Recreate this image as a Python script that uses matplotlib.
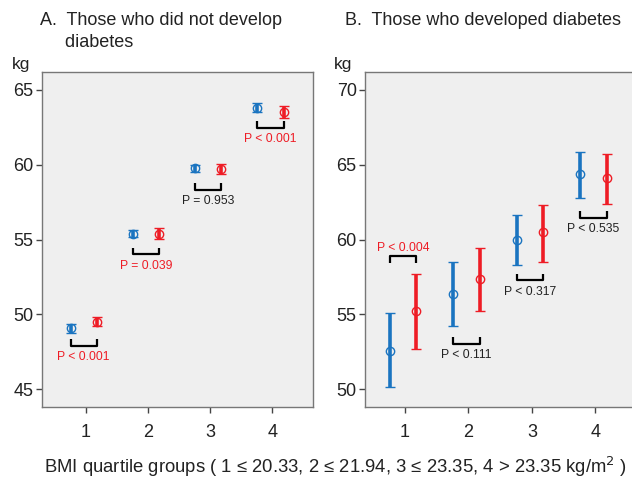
import matplotlib.pyplot as plt
import numpy as np

plt.rcParams['font.family'] = ['Liberation Sans', 'DejaVu Sans']

groups = [1, 2, 3, 4]
xtick_labels = ["1", "2", "3", "4"]

# Panel A: those who did not develop diabetes (mean, half-width of CI)
a_blue_mean = [49.05, 55.4, 59.75, 63.8]
a_blue_err = [0.3, 0.25, 0.25, 0.3]
a_red_mean = [49.5, 55.4, 59.7, 63.5]
a_red_err = [0.3, 0.35, 0.35, 0.4]
a_pvals = ["P < 0.001", "P = 0.039", "P = 0.953", "P < 0.001"]
a_psig = [True, True, False, True]
a_bracket_y = [47.87, 54.0, 58.33, 62.47]

# Panel B: those who developed diabetes (mean, lower, upper)
b_blue_mean = [52.55, 56.33, 60.0, 64.4]
b_blue_lo = [50.13, 54.2, 58.27, 62.8]
b_blue_hi = [55.07, 58.47, 61.67, 65.87]
b_red_mean = [55.2, 57.33, 60.47, 64.13]
b_red_lo = [52.67, 55.2, 58.47, 62.4]
b_red_hi = [57.67, 59.4, 62.33, 65.73]
b_pvals = ["P < 0.004", "P < 0.111", "P < 0.317", "P < 0.535"]
b_psig = [True, False, False, False]
b_bracket_y = [58.87, 53.0, 57.27, 61.47]
b_bracket_up = [False, True, True, True]

BLUE = '#1a74c0'
RED = '#ee1c25'
DARK = '#222222'

fig = plt.figure(figsize=(6.32, 4.82), dpi=100)
axA = fig.add_axes([0.0665, 0.1556, 0.4285, 0.695])
axB = fig.add_axes([0.5775, 0.1556, 0.435, 0.695])

off_l, off_r = -0.24, 0.18


def draw_pair(ax, x, mean, yerr, color):
    ax.errorbar(x, mean, yerr=yerr, fmt='o', color=color, mfc='none',
                ms=6, mew=1.0, elinewidth=2.6, capsize=3.5, capthick=2.6)


def bracket(ax, x1, x2, y, up, h, label, sig, text_off):
    d = h if up else -h
    ax.plot([x1, x1, x2, x2], [y + d, y, y, y + d], color='black', lw=1.6,
            solid_capstyle='butt')
    ty = y - text_off if up else y + text_off
    ax.text((x1 + x2) / 2, ty, label, ha='center',
            va='top' if up else 'bottom', fontsize=8.7,
            color=RED if sig else DARK)


x = np.array(groups, dtype=float)

# Panel A
draw_pair(axA, x + off_l, a_blue_mean, a_blue_err, BLUE)
draw_pair(axA, x + off_r, a_red_mean, a_red_err, RED)
for i in range(4):
    bracket(axA, x[i] + off_l, x[i] + off_r, a_bracket_y[i], True, 0.45,
            a_pvals[i], a_psig[i], 0.35)
axA.set_xlim(0.3, 4.65)
axA.set_ylim(43.8, 66.2)
axA.set_yticks([45, 50, 55, 60, 65])

# Panel B
b_blue_err = [np.subtract(b_blue_mean, b_blue_lo), np.subtract(b_blue_hi, b_blue_mean)]
b_red_err = [np.subtract(b_red_mean, b_red_lo), np.subtract(b_red_hi, b_red_mean)]
draw_pair(axB, x + off_l, b_blue_mean, b_blue_err, BLUE)
draw_pair(axB, x + off_r, b_red_mean, b_red_err, RED)
for i in range(4):
    bracket(axB, x[i] + off_l, x[i] + off_r, b_bracket_y[i], b_bracket_up[i], 0.45,
            b_pvals[i], b_psig[i], 0.35 if b_bracket_up[i] else 0.15)
axB.set_xlim(0.37, 4.7)
axB.set_ylim(48.8, 71.2)
axB.set_yticks([50, 55, 60, 65, 70])

for ax in (axA, axB):
    ax.set_facecolor('#efefef')
    ax.set_xticks(groups)
    ax.set_xticklabels(xtick_labels)
    ax.tick_params(labelsize=13, colors='#444444', labelcolor=DARK,
                   length=4, width=1)
    ax.tick_params(axis='x', pad=8)
    ax.tick_params(axis='y', pad=2)
    for s in ax.spines.values():
        s.set_color('#777777')
        s.set_linewidth(1.0)

fig.text(0.019, 0.857, "kg", fontsize=12.5, color=DARK, va='baseline')
fig.text(0.529, 0.857, "kg", fontsize=12.5, color=DARK, va='baseline')

fig.text(0.063, 0.975, "A.  Those who did not develop\n     diabetes", fontsize=13,
         color=DARK, va='top', linespacing=1.35)
fig.text(0.546, 0.975, "B.  Those who developed diabetes", fontsize=13,
         color=DARK, va='top')

fig.text(0.53, 0.018, "BMI quartile groups ( 1 \u2264 20.33, 2 \u2264 21.94, 3 \u2264 23.35, "
         "4 > 23.35 kg/m$^2$ )", fontsize=13.3, color=DARK, ha='center', va='baseline')

fig.savefig("out.png", dpi=100)
